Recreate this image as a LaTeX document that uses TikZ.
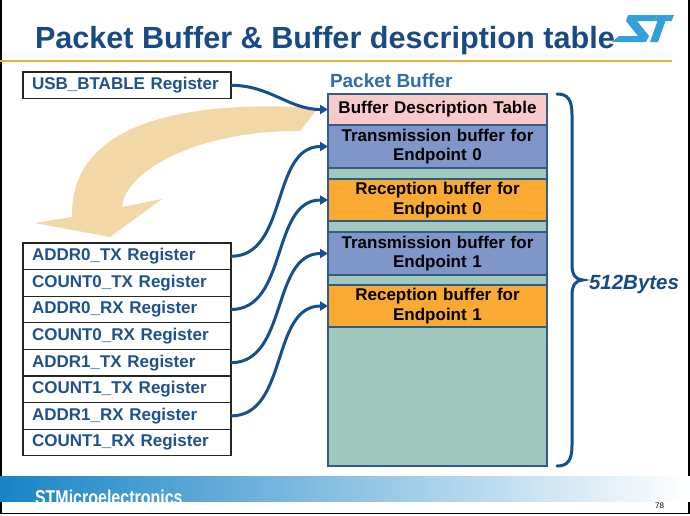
\documentclass[tikz,border=0pt]{standalone}
\usepackage{fontspec}
\usepackage{graphicx}
\setmainfont{Liberation Sans}
\usetikzlibrary{positioning,arrows.meta}
\definecolor{titleblue}{RGB}{24,74,134}
\definecolor{regblue}{RGB}{30,82,142}
\definecolor{pbblue}{RGB}{48,108,168}
\definecolor{linkblue}{RGB}{22,80,140}
\definecolor{bufline}{RGB}{48,92,135}
\definecolor{bdtpink}{RGB}{248,202,202}
\definecolor{txblue}{RGB}{128,150,200}
\definecolor{rxorange}{RGB}{250,170,50}
\definecolor{gapgreen}{RGB}{162,200,190}
\definecolor{tan}{RGB}{242,216,166}
\definecolor{ruleorange}{RGB}{245,172,62}
\definecolor{stbar}{RGB}{24,132,198}
\definecolor{stlogo}{RGB}{52,160,218}
\begin{document}
\begin{tikzpicture}[y=1pt, x=1pt, yscale=-1, inner sep=0pt, outer sep=0pt,
  reg/.style={draw=black!85, line width=1.2pt, fill=white, minimum width=208pt, minimum height=26.6pt, inner xsep=9pt, text width=190pt, align=left, text=regblue, font=\fontsize{17}{19}\selectfont\bfseries},
  buf/.style={draw=bufline, line width=1.4pt, minimum width=219pt, text width=212pt, align=center, font=\fontsize{17}{19.5}\selectfont\bfseries},
  link/.style={draw=linkblue, line width=3pt, -{Triangle[length=8pt,width=9pt]}}]
\useasboundingbox (0,0) rectangle (690,515);
\path[fill=white] (0,0) rectangle (690,515);
\path[draw=black, line width=1.5pt] (1,0) -- (1,513.5) -- (689,513.5) -- (689,0);
\node[anchor=base west, text=titleblue, font=\fontsize{30.6}{36}\selectfont\bfseries] (title) at (35,48) {Packet Buffer \& Buffer description table};
\path[fill=stlogo] (628,15) -- (657,15) -- (655,21) -- (637,21) -- (649,36) -- (646,42) -- (612,42) -- (619,36) -- (638,36) -- (626,21) -- cycle;
\path[fill=stlogo] (657,15) -- (674,15) -- (671.5,21) -- (665.5,21) -- (658,42) -- (650,42) -- (657.5,21) -- (655,21) -- cycle;
\path[draw=ruleorange, line width=2pt] (0,61) -- (672,61);
\node[reg, anchor=north west] (btable) at (23,72) {USB\_BTABLE Register};
\node[reg, anchor=north west] (addr0tx) at (23,243) {ADDR0\_TX Register};
\node[reg, below=0pt of addr0tx] (count0tx) {COUNT0\_TX Register};
\node[reg, below=0pt of count0tx] (addr0rx) {ADDR0\_RX Register};
\node[reg, below=0pt of addr0rx] (count0rx) {COUNT0\_RX Register};
\node[reg, below=0pt of count0rx] (addr1tx) {ADDR1\_TX Register};
\node[reg, below=0pt of addr1tx] (count1tx) {COUNT1\_TX Register};
\node[reg, below=0pt of count1tx] (addr1rx) {ADDR1\_RX Register};
\node[reg, below=0pt of addr1rx] (count1rx) {COUNT1\_RX Register};
\node[buf, fill=bdtpink, minimum height=31pt, anchor=north] (bdt) at (437.5,94) {Buffer Description Table};
\node[buf, fill=txblue, minimum height=43pt, below=0pt of bdt] (tx0) {Transmission buffer for\\Endpoint 0};
\node[buf, fill=gapgreen, minimum height=11pt, below=0pt of tx0] (gap0) {};
\node[buf, fill=rxorange, minimum height=42pt, below=0pt of gap0] (rx0) {Reception buffer for\\Endpoint 0};
\node[buf, fill=gapgreen, minimum height=11pt, below=0pt of rx0] (gap1) {};
\node[buf, fill=txblue, minimum height=43pt, below=0pt of gap1] (tx1) {Transmission buffer for\\Endpoint 1};
\node[buf, fill=gapgreen, minimum height=10pt, below=0pt of tx1] (gap2) {};
\node[buf, fill=rxorange, minimum height=42pt, below=0pt of gap2] (rx1) {Reception buffer for\\Endpoint 1};
\node[buf, fill=gapgreen, minimum height=139pt, below=0pt of rx1] (free) {};
\node[above right=6pt and 2pt of bdt.north west, text=pbblue, font=\fontsize{19}{22}\selectfont\bfseries] (pbtitle) {Packet Buffer};
\path[fill=tan] (318,108) .. controls (190,100) and (70,120) .. (72,217) -- (35,223) -- (110,237) -- (162,199) -- (122,207) .. controls (125,170) and (200,130) .. (300,131) -- cycle;
\draw[link] (btable.east) to[out=0, in=180] (bdt.west);
\draw[link] (addr0tx.east) to[out=0, in=180] (tx0.west);
\draw[link] (addr0rx.east) to[out=0, in=180] (rx0.west);
\draw[link] (addr1tx.east) to[out=0, in=180] (tx1.west);
\draw[link] (addr1rx.east) to[out=0, in=180] (rx1.west);
\path[draw=linkblue, line width=3pt, line cap=round] (557,94) .. controls (568,94) and (572,100) .. (572,115) -- (572,265) .. controls (572,275) and (576,280) .. (583,280) .. controls (576,280) and (572,285) .. (572,295) -- (572,445) .. controls (572,460) and (568,466) .. (557,466);
\node[anchor=west, text=titleblue, font=\fontsize{20.5}{24}\selectfont\bfseries\itshape] (bytes) at (589,284) {512Bytes};
\shade[left color=stbar, middle color=stbar!70!white, right color=white] (0,476) rectangle (690,501);
\begin{scope}
\clip (0,476) rectangle (690,501);
\node[anchor=base west, text=white, font=\fontsize{20}{24}\selectfont\bfseries] (brand) at (35,504) {\scalebox{0.8}[1]{STMicroelectronics}};
\end{scope}
\node[anchor=base east, font=\fontsize{8}{10}\selectfont] (page) at (664,508) {78};
\end{tikzpicture}
\end{document}
